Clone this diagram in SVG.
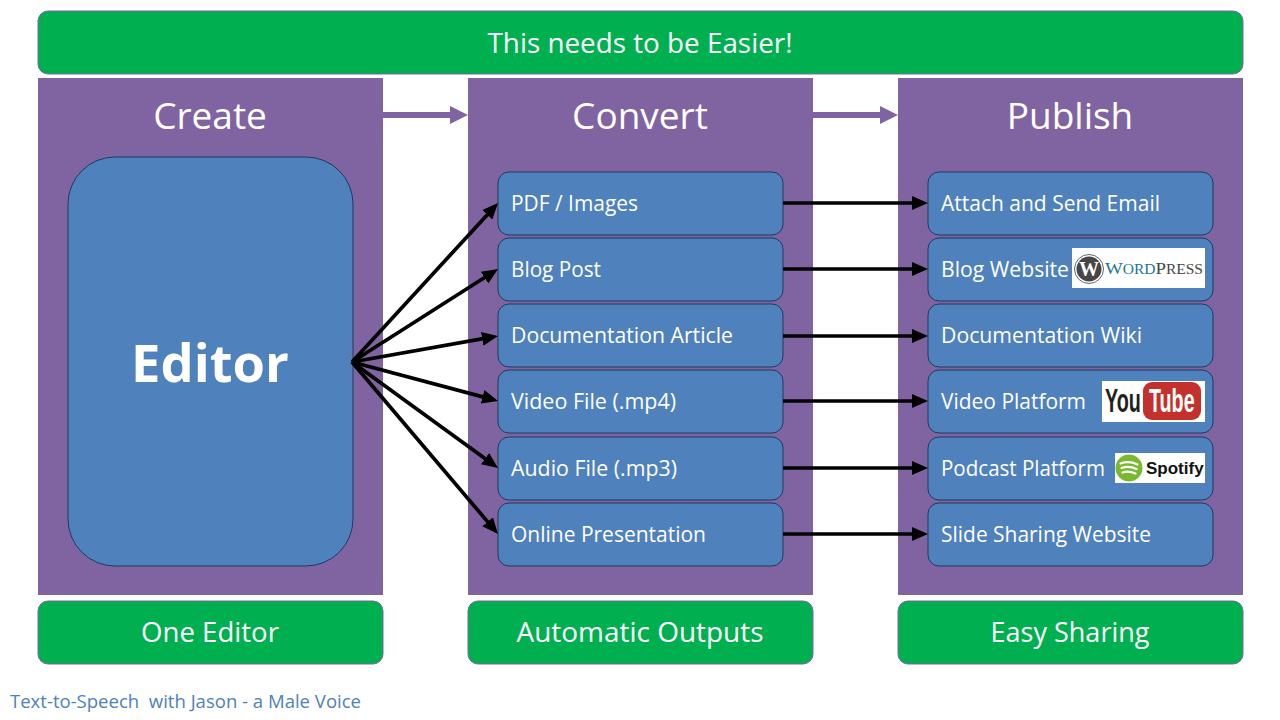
<svg xmlns="http://www.w3.org/2000/svg" width="1280" height="720" viewBox="0 0 1280 720">
<style>
text{font-family:"Open Sans","Noto Sans","Liberation Sans",sans-serif;fill:#fff}
.panel{fill:#8064a2}
.green{fill:#00b050;stroke:#8064a2;stroke-width:1}
.blue{fill:#4f81bd;stroke:#1f3a5c;stroke-width:1}
.item{font-size:21px}
.head{font-size:37px;text-anchor:middle}
.tag{font-size:28px;text-anchor:middle}
.k{fill:none;stroke:#000;stroke-width:3.7}
.p{fill:none;stroke:#8064a2;stroke-width:6}
.logo{fill:#fff}
.serif{font-family:"Liberation Serif",serif}
.sans{font-family:"Liberation Sans",sans-serif}
</style>
<defs>
<marker id="ah" markerUnits="userSpaceOnUse" markerWidth="16" markerHeight="14" refX="8" refY="7" orient="auto"><path d="M0 0L16 7L0 14z" fill="#000"/></marker>
<marker id="ap" markerUnits="userSpaceOnUse" markerWidth="18" markerHeight="18" refX="8" refY="9" orient="auto"><path d="M0 0L18 9L0 18z" fill="#8064a2"/></marker>
</defs>
<g id="banner"><rect class="green" x="38" y="11" width="1205" height="63" rx="10"/><text x="640" y="53" text-anchor="middle" font-size="28" textLength="305" lengthAdjust="spacingAndGlyphs">This needs to be Easier!</text></g>
<g id="create"><rect class="panel" x="38" y="78" width="345" height="517"/><text class="head" x="210" y="129">Create</text></g>
<g id="convert"><rect class="panel" x="468" y="78" width="345" height="517"/><text class="head" x="640" y="129">Convert</text></g>
<g id="publish"><rect class="panel" x="898" y="78" width="345" height="517"/><text class="head" x="1070" y="129">Publish</text></g>
<g id="editor"><rect class="blue" x="68" y="157" width="285" height="409" rx="47"/><text x="210" y="382" text-anchor="middle" font-size="52.500" font-weight="700">Editor</text></g>
<g id="c1"><rect class="blue" x="498" y="172" width="285" height="63" rx="11"/><text class="item" x="511" y="211" textLength="127" lengthAdjust="spacingAndGlyphs">PDF / Images</text></g>
<g id="c2"><rect class="blue" x="498" y="238" width="285" height="63" rx="11"/><text class="item" x="511" y="277" textLength="90" lengthAdjust="spacingAndGlyphs">Blog Post</text></g>
<g id="c3"><rect class="blue" x="498" y="304" width="285" height="63" rx="11"/><text class="item" x="511" y="343" textLength="222" lengthAdjust="spacingAndGlyphs">Documentation Article</text></g>
<g id="c4"><rect class="blue" x="498" y="370" width="285" height="63" rx="11"/><text class="item" x="511" y="409" textLength="165" lengthAdjust="spacingAndGlyphs">Video File (.mp4)</text></g>
<g id="c5"><rect class="blue" x="498" y="437" width="285" height="63" rx="11"/><text class="item" x="511" y="476" textLength="166" lengthAdjust="spacingAndGlyphs">Audio File (.mp3)</text></g>
<g id="c6"><rect class="blue" x="498" y="503" width="285" height="63" rx="11"/><text class="item" x="511" y="542" textLength="195" lengthAdjust="spacingAndGlyphs">Online Presentation</text></g>
<g id="p1"><rect class="blue" x="928" y="172" width="285" height="63" rx="11"/><text class="item" x="941" y="211" textLength="219" lengthAdjust="spacingAndGlyphs">Attach and Send Email</text></g>
<g id="p2"><rect class="blue" x="928" y="238" width="285" height="63" rx="11"/><text class="item" x="941" y="277" textLength="128" lengthAdjust="spacingAndGlyphs">Blog Website</text>
<rect class="logo" x="1072" y="248" width="133" height="40"/>
<circle cx="1089" cy="269" r="12.500" fill="#464646"/><circle cx="1089" cy="269" r="14.500" fill="none" stroke="#666" stroke-width="1"/>
<text class="serif" x="1089" y="276" text-anchor="middle" font-size="20" font-weight="700">W</text>
<text class="serif" x="1105" y="274" font-size="17" textLength="98" lengthAdjust="spacingAndGlyphs" style="fill:#21759b">W<tspan font-size="14">ORD</tspan><tspan style="fill:#464646">P</tspan><tspan font-size="14" style="fill:#464646">RESS</tspan></text></g>
<g id="p3"><rect class="blue" x="928" y="304" width="285" height="63" rx="11"/><text class="item" x="941" y="343" textLength="201" lengthAdjust="spacingAndGlyphs">Documentation Wiki</text></g>
<g id="p4"><rect class="blue" x="928" y="370" width="285" height="63" rx="11"/><text class="item" x="941" y="409" textLength="145" lengthAdjust="spacingAndGlyphs">Video Platform</text>
<rect class="logo" x="1102" y="381" width="103" height="41"/>
<rect x="1143" y="382" width="58" height="38" rx="9" fill="#c4302b"/>
<text class="sans" transform="translate(1105 412) scale(.58 1)" font-size="34" font-weight="700" style="fill:#231f20">You</text>
<text class="sans" transform="translate(1149 412) scale(.58 1)" font-size="34" font-weight="700">Tube</text></g>
<g id="p5"><rect class="blue" x="928" y="437" width="285" height="63" rx="11"/><text class="item" x="941" y="476" textLength="164" lengthAdjust="spacingAndGlyphs">Podcast Platform</text>
<rect class="logo" x="1115" y="453" width="90" height="30"/>
<circle cx="1129" cy="468" r="13.500" fill="#7ab82e"/>
<path d="M1120.500 463.500Q1129 460.500 1137.500 464.500M1121.500 468Q1129 465.500 1136.500 469M1122.500 472.500Q1129 470.500 1135.500 473.500" fill="none" stroke="#fff" stroke-width="2.200" stroke-linecap="round"/>
<text class="sans" x="1146" y="474" font-size="17" font-weight="700" style="fill:#111">Spotify</text></g>
<g id="p6"><rect class="blue" x="928" y="503" width="285" height="63" rx="11"/><text class="item" x="941" y="542" textLength="210" lengthAdjust="spacingAndGlyphs">Slide Sharing Website</text></g>
<g id="connectors">
<path class="p" marker-end="url(#ap)" d="M383 115H458"/>
<path class="p" marker-end="url(#ap)" d="M813 115H888"/>
<path class="k" marker-end="url(#ah)" d="M352 362L492.600 208.900"/>
<path class="k" marker-end="url(#ah)" d="M352 362L491.300 273.300"/>
<path class="k" marker-end="url(#ah)" d="M352 362L490.100 337.400"/>
<path class="k" marker-end="url(#ah)" d="M352 362L490.300 398.900"/>
<path class="k" marker-end="url(#ah)" d="M352 362L491.500 463.300"/>
<path class="k" marker-end="url(#ah)" d="M352 362L492.800 527.900"/>
<path class="k" marker-end="url(#ah)" d="M783 203H920"/>
<path class="k" marker-end="url(#ah)" d="M783 269H920"/>
<path class="k" marker-end="url(#ah)" d="M783 336H920"/>
<path class="k" marker-end="url(#ah)" d="M783 401H920"/>
<path class="k" marker-end="url(#ah)" d="M783 468H920"/>
<path class="k" marker-end="url(#ah)" d="M783 534H920"/>
</g>
<g id="tag1"><rect class="green" x="38" y="601" width="345" height="63" rx="10"/><text class="tag" x="210" y="642" textLength="138" lengthAdjust="spacingAndGlyphs">One Editor</text></g>
<g id="tag2"><rect class="green" x="468" y="601" width="345" height="63" rx="10"/><text class="tag" x="640" y="642" textLength="247" lengthAdjust="spacingAndGlyphs">Automatic Outputs</text></g>
<g id="tag3"><rect class="green" x="898" y="601" width="345" height="63" rx="10"/><text class="tag" x="1070" y="642" textLength="159" lengthAdjust="spacingAndGlyphs">Easy Sharing</text></g>
<text id="caption" x="10" y="708" font-size="18" textLength="351" lengthAdjust="spacingAndGlyphs" xml:space="preserve" style="fill:#4f81bd">Text-to-Speech  with Jason - a Male Voice</text>
</svg>
